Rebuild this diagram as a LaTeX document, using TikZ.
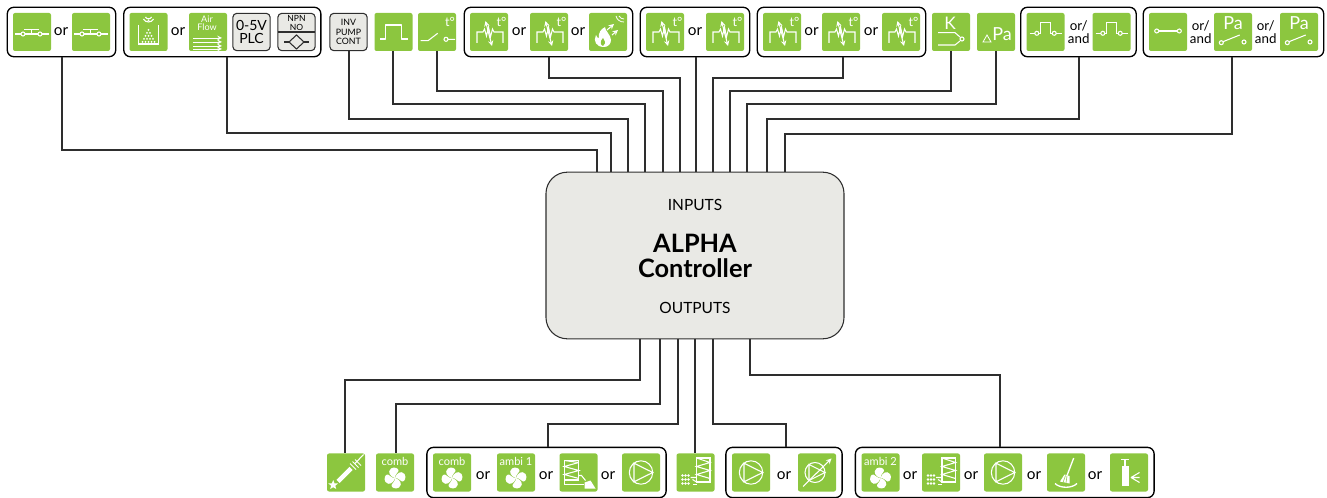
\documentclass[tikz,border=0pt]{standalone}
\usepackage{fontspec}
\setmainfont{Lato}
\usetikzlibrary{fit}
\definecolor{leaf}{HTML}{8CC63F}
\definecolor{panel}{HTML}{E9E9E5}
\definecolor{wirecol}{HTML}{2E2E2E}
\newcommand{\fsz}[1]{\fontsize{#1}{#1}\selectfont}
\tikzset{
	tile/.style={fill=leaf,rounded corners=1.5pt,minimum width=28.5pt,minimum height=28.5pt,inner sep=0pt,outer sep=0pt},
	greytile/.style={fill=panel,draw=wirecol,line width=.8pt,rounded corners=3pt,minimum width=28pt,minimum height=28pt,inner sep=0pt,outer sep=0pt,align=center},
	group/.style={draw=black,line width=1pt,rounded corners=5pt,inner sep=4.3pt,outer sep=0pt},
	groupb/.style={group,inner sep=4.6pt},
	wire/.style={draw=wirecol,line width=1pt},
	ortext/.style={font=\fsz{11.5},inner sep=0pt},
	oratext/.style={font=\fsz{10},inner sep=0pt,align=center},
	icon/.style={draw=white,line width=.8pt},
	icontext/.style={text=white,inner sep=0pt},
	ncswitch/.pic={
		\draw[icon] (-17,2) -- (-11,2) (-7,2) -- (6,2) (10,2) -- (17,2);
		\draw[icon] (-9,2) circle (2) (8,2) circle (2);
		\draw[icon] (-8,-2.5) -- (7,-2.5) (-0.5,-2.5) -- (-0.5,2);
	},
	levelbin/.pic={
		\draw[icon] (-10,-7) -- (-10,12) -- (10,12) -- (10,-7);
		\foreach \y/\n/\s in {10/5/-6,7/4/-4.5,4/3/-3,1/2/-1.5,-2/1/0}
			\foreach \i in {1,...,\n}
				\fill[white] ({\s+(\i-1)*3},\y) circle (1);
		\draw[icon] (-5,-13) .. controls (-3,-9) and (3,-9) .. (5,-13);
		\draw[icon] (-3,-15) .. controls (-1.5,-12.5) and (1.5,-12.5) .. (3,-15);
		\fill[white] (0,-11.5) circle (1);
	},
	airflow/.pic={
		\node[icontext,font=\fsz{6.8},align=center] at (-1,-9) {Air\\[-.5pt]Flow};
		\draw[icon,line width=.6pt,->] (-15,6) -- (14,6);
		\draw[icon,line width=.6pt,->] (-15,10) -- (14,10);
		\draw[icon,line width=.6pt,->] (-15,14) -- (14,14);
		\draw[icon,line width=.6pt,->] (-15,17) -- (14,17);
	},
	pulsewave/.pic={
		\draw[icon,line width=1.4pt,line join=round] (-13.5,7) -- (-8,7) -- (-8,-7) -- (8,-7) -- (8,7) -- (14,7);
	},
	tswitch/.pic={
		\node[icontext,font=\fsz{9.5}] at (13,-10) {t°};
		\draw[icon] (-16.5,8.7) -- (-9,8.7) -- (0.7,1.3);
		\draw[icon] (9,7.3) circle (2) (11,7.3) -- (18,7.3);
	},
	ptc/.pic={
		\node[icontext,font=\fsz{9.5}] at (12.5,-10) {t°};
		\draw[icon] (-12,11) -- (-12,0) -- (-6,0) -- (-4.5,-3) -- (-2.5,4) -- (-0.5,-5) -- (1.5,5) -- (3.5,-3) -- (5,0) -- (14,0) -- (14,11);
		\draw[icon,<->] (-3.5,-11) -- (3,14);
	},
	flame/.pic={
		\fill[white] (-4,15) .. controls (-12,15) and (-15,9) .. (-12,3) .. controls (-11,6) and (-10,6) .. (-9,6) .. controls (-10,1) and (-7,-3) .. (-3,-5) .. controls (-3,-1) and (3,3) .. (3,8) .. controls (3,12) and (0,15) .. (-4,15) -- cycle;
		\fill[leaf] (-5,14) .. controls (-8,13) and (-8,9) .. (-5,6) .. controls (-4,9) and (-1,10) .. (-5,14) -- cycle;
		\draw[icon,->] (-1,-2) -- (6,-8);
		\draw[icon,->] (4,3) -- (10,-2);
		\draw[icon,line width=.6pt] (8,-16) .. controls (9,-12) and (12,-10) .. (16,-10);
		\draw[icon,line width=.6pt] (11,-16) .. controls (12,-14) and (14,-13) .. (16,-13);
	},
	tcouple/.pic={
		\node[icontext,font=\fsz{13}] at (-1,-9) {K};
		\draw[icon] (-13,0.7) -- (4,0.7) -- (9,5) (9,9) -- (4,13) -- (-13,13);
		\draw[icon] (11,7) circle (2);
	},
	deltapa/.pic={
		\node[icontext,font=\fsz{13.5}] at (6,2) {Pa};
		\draw[icon,line width=.6pt] (-13,10) -- (-9,3) -- (-5,10) -- cycle;
	},
	pulsesw/.pic={
		\draw[icon] (-16,1.3) -- (-10.7,1.3) (10.7,1.3) -- (16,1.3);
		\draw[icon] (-8.7,1.3) circle (2) (8.7,1.3) circle (2);
		\draw[icon] (-6.7,1.3) -- (-4.7,1.3) -- (-4.7,-9.3) -- (4.7,-9.3) -- (4.7,1.3) -- (6.7,1.3);
	},
	closedsw/.pic={
		\draw[icon] (-11.3,-1) circle (2) (11.3,-1) circle (2);
		\draw[icon,line width=1pt] (-9.3,-1) -- (9.3,-1);
	},
	paswitch/.pic={
		\node[icontext,font=\fsz{13.5}] at (0,-9) {Pa};
		\draw[icon] (-11.7,10.7) circle (2) (11,10) circle (2);
		\draw[icon] (-10,9.7) -- (6.7,3);
	},
	igniter/.pic={
		\draw[white,line width=3.4pt] (-8,9) -- (5,-4);
		\draw[icon,line width=.7pt] (4,-9) -- (10,-3) (6.5,-11) -- (12.5,-5) (9,-13) -- (15,-7);
		\draw[icon] (9,-9) -- (17.5,-18);
		\fill[white] (-12.8,7.5) -- (-11.5,10.8) -- (-8,11) -- (-10.7,13.2) -- (-9.8,16.5) -- (-12.8,14.7) -- (-15.8,16.5) -- (-14.9,13.2) -- (-17.6,11) -- (-14.1,10.8) -- cycle;
	},
	fanblades/.pic={
		\foreach \a in {0,90,180,270}
			\fill[white,rotate=\a] (0,0) .. controls (-5,-1.5) and (-8,-6) .. (-4,-9.5) .. controls (-1,-11.5) and (4,-10) .. (3.5,-7) .. controls (3,-5) and (0,-4) .. (0,0) -- cycle;
	},
	combfan/.pic={
		\node[icontext,font=\fsz{8.3}] at (0,-11) {comb};
		\pic at (0,5.5) {fanblades};
	},
	ambione/.pic={
		\node[icontext,font=\fsz{8.3}] at (0,-11) {ambi 1};
		\pic at (0,5.5) {fanblades};
	},
	ambitwo/.pic={
		\node[icontext,font=\fsz{8.3}] at (0,-11) {ambi 2};
		\pic at (0,5.5) {fanblades};
	},
	exchanger/.pic={
		\draw[icon] (-14.3,-12) rectangle (0.3,7.5);
		\draw[icon] (0.3,-10) -- (-14.3,-6) -- (0.3,-2) -- (-14.3,2) -- (0.3,6);
		\draw[icon] (-14.3,-12) -- (0.3,-10);
		\draw[icon] (0.3,3) -- (3,3) -- (7,8);
		\draw[icon] (-14.3,7.5) -- (-14.3,12) -- (5,12);
		\fill[white] (6,10) -- (12,8) -- (17,16) -- (6,16) -- cycle;
	},
	pump/.pic={
		\draw[icon] (0,0) circle (11.7);
		\draw[icon] (-7,-9.3) -- (-7,9.3) -- (11.7,0) -- cycle;
	},
	burner/.pic={
		\draw[icon] (1,-14.5) rectangle (14.5,9.5);
		\draw[icon] (1,-14.5) -- (14.5,-10) -- (1,-6) -- (14.5,-2) -- (1,2) -- (14.5,6);
		\draw[icon] (1,5) -- (-5,5) (1,9.5) -- (-3,7);
		\draw[icon] (1,12) -- (-3,12);
		\foreach \x in {-13,-10,-7}
			\foreach \y in {3,7,11}
				\fill[white] (\x,\y) circle (1.3);
	},
	valve/.pic={
		\draw[icon] (-2,0) circle (10);
		\draw[icon] (-8,-8) -- (-8,8) -- (8,0) -- cycle;
		\draw[icon,->] (-14,14) -- (14.5,-14);
	},
	broom/.pic={
		\draw[icon,line width=1pt] (7.7,-14.5) -- (1,3);
		\fill[white] (-1.5,2) -- (3.5,3.5) -- (3.5,11) -- (-6,9) -- cycle;
		\draw[leaf,line width=.4pt] (-3,10) -- (-0.5,3) (0,10.5) -- (1,3.5);
		\draw[icon,line width=1pt] (-11,11) .. controls (-6,16) and (6,16) .. (11,11);
	},
	injector/.pic={
		\draw[icon,line width=1.2pt] (-8,-13) -- (0,-13) (-3.8,-13) -- (-3.8,-7);
		\fill[white] (-7.2,-7) rectangle (-0.5,13);
		\draw[icon] (2,5) -- (10.5,0) (2,5) -- (10.5,5) (2,5) -- (10.5,10);
	},
}
\begin{document}
\begin{tikzpicture}[x=.75pt,y=-.75pt,>=stealth]
	\useasboundingbox (0,0) rectangle (1327,498);

	% top row
	\node[tile] (ncone) at (32,32) {};
	\node[ortext] (orone) at (61,32) {or};
	\node[tile] (nctwo) at (91,32) {};
	\node[tile] (level) at (148.5,32) {};
	\node[ortext] (ortwo) at (178,32) {or};
	\node[tile] (air) at (208,32) {};
	\node[greytile,font=\fsz{10.5}] (plc) at (251.5,32) {0-5V\\[-1pt]PLC};
	\node[greytile] (npn) at (296.5,32) {};
	\node[greytile,font=\fsz{6.6}] (inv) at (348.5,32) {INV\\[.5pt]PUMP\\[.5pt]CONT};
	\node[tile] (pulse) at (393.5,32) {};
	\node[tile] (tsw) at (437,32) {};
	\node[tile] (ptca) at (489,32) {};
	\node[ortext] (orthree) at (519,32) {or};
	\node[tile] (ptcb) at (549,32) {};
	\node[ortext] (orfour) at (578,32) {or};
	\node[tile] (fire) at (608,32) {};
	\node[tile] (ptcc) at (665,32) {};
	\node[ortext] (orfive) at (695,32) {or};
	\node[tile] (ptcd) at (725,32) {};
	\node[tile] (ptce) at (782,32) {};
	\node[ortext] (orsix) at (811.5,32) {or};
	\node[tile] (ptcf) at (841,32) {};
	\node[ortext] (orseven) at (871,32) {or};
	\node[tile] (ptcg) at (901,32) {};
	\node[tile] (kay) at (951,32) {};
	\node[tile] (dpa) at (996,32) {};
	\node[tile] (psa) at (1045.5,32) {};
	\node[oratext] (anda) at (1078.7,32) {or/\\[.2pt]and};
	\node[tile] (psb) at (1111.5,32) {};
	\node[tile] (closed) at (1168,32) {};
	\node[oratext] (andb) at (1200.7,32) {or/\\[.2pt]and};
	\node[tile] (paa) at (1233,32) {};
	\node[oratext] (andc) at (1265.7,32) {or/\\[.2pt]and};
	\node[tile] (pab) at (1299,32) {};

	% top groups
	\node[group,fit=(ncone)(nctwo)] (gone) {};
	\node[group,fit=(level)(npn)] (gtwo) {};
	\node[group,fit=(ptca)(fire)] (gthree) {};
	\node[group,fit=(ptcc)(ptcd)] (gfour) {};
	\node[group,fit=(ptce)(ptcg)] (gfive) {};
	\node[group,fit=(psa)(psb)] (gsix) {};
	\node[group,fit=(closed)(pab)] (gseven) {};

	% icons
	\pic at (ncone) {ncswitch};
	\pic at (nctwo) {ncswitch};
	\pic at (level) {levelbin};
	\pic at (air) {airflow};
	\draw[wirecol,line width=.8pt] (npn.west) -- (npn.east);
	\node[inner sep=0pt,font=\fsz{6.4},align=center] (npntext) at (296.5,23) {NPN\\[.2pt]NO};
	\draw[wirecol,line width=.8pt] (284,42) -- (289,42) (304,42) -- (309,42);
	\draw[wirecol,line width=.8pt] (296.5,35) -- (304,42) -- (296.5,49) -- (289,42) -- cycle;
	\pic at (pulse) {pulsewave};
	\pic at (tsw) {tswitch};
	\pic at (ptca) {ptc};
	\pic at (ptcb) {ptc};
	\pic at (fire) {flame};
	\pic at (ptcc) {ptc};
	\pic at (ptcd) {ptc};
	\pic at (ptce) {ptc};
	\pic at (ptcf) {ptc};
	\pic at (ptcg) {ptc};
	\pic at (kay) {tcouple};
	\pic at (dpa) {deltapa};
	\pic at (psa) {pulsesw};
	\pic at (psb) {pulsesw};
	\pic at (closed) {closedsw};
	\pic at (paa) {paswitch};
	\pic at (pab) {paswitch};

	% controller
	\node[fill=panel,draw=wirecol,line width=.8pt,rounded corners=16pt,minimum width=223.5pt,minimum height=125pt,outer sep=0pt] (ctrl) at (695,255.5) {};
	\node[font=\fsz{11.6},inner sep=0pt] (intext) at (695,205) {INPUTS};
	\node[font=\fsz{19}\bfseries,align=center,inner sep=0pt] (name) at (695,256) {ALPHA\\Controller};
	\node[font=\fsz{11.6},inner sep=0pt] (outtext) at (695,308) {OUTPUTS};

	% bottom row
	\node[tile] (ign) at (346,472.5) {};
	\node[tile] (comb) at (395,472.5) {};
	\node[tile] (comba) at (452,472.5) {};
	\node[ortext] (orbone) at (483,476) {or};
	\node[tile] (ambi) at (516,472.5) {};
	\node[ortext] (orbtwo) at (546,476) {or};
	\node[tile] (exch) at (578.5,472.5) {};
	\node[ortext] (orbthree) at (608,476) {or};
	\node[tile] (pumpa) at (641,472.5) {};
	\node[tile] (burn) at (695.5,472.5) {};
	\node[tile] (pumpb) at (751,472.5) {};
	\node[ortext] (orbfour) at (784,476) {or};
	\node[tile] (vlv) at (817,472.5) {};
	\node[tile] (ambib) at (880.5,472.5) {};
	\node[ortext] (orbfive) at (910,476) {or};
	\node[tile] (burnb) at (941,472.5) {};
	\node[ortext] (orbsix) at (971,476) {or};
	\node[tile] (pumpc) at (1003,472.5) {};
	\node[ortext] (orbseven) at (1034,476) {or};
	\node[tile] (brm) at (1066,472.5) {};
	\node[ortext] (orbeight) at (1095,476) {or};
	\node[tile] (inj) at (1129,472.5) {};

	% bottom groups
	\node[groupb,fit=(comba)(pumpa)] (geight) {};
	\node[groupb,fit=(pumpb)(vlv)] (gnine) {};
	\node[groupb,fit=(ambib)(inj)] (gten) {};

	% icons
	\pic at (ign) {igniter};
	\pic at (comb) {combfan};
	\pic at (comba) {combfan};
	\pic at (ambi) {ambione};
	\pic at (exch) {exchanger};
	\pic at (pumpa) {pump};
	\pic at (burn) {burner};
	\pic at (pumpb) {pump};
	\pic at (vlv) {valve};
	\pic at (ambib) {ambitwo};
	\pic at (burnb) {burner};
	\pic at (pumpc) {pump};
	\pic at (brm) {broom};
	\pic at (inj) {injector};

	% inputs
	\draw[wire] (62,150 |- gone.south) -- (62,150) -- (597,150) -- (597,150 |- ctrl.north);
	\draw[wire] (227,133 |- gtwo.south) -- (227,133) -- (611,133) -- (611,133 |- ctrl.north);
	\draw[wire] (349,119 |- inv.south) -- (349,119) -- (628,119) -- (628,119 |- ctrl.north);
	\draw[wire] (393,104 |- pulse.south) -- (393,104) -- (645,104) -- (645,104 |- ctrl.north);
	\draw[wire] (tsw.south) |- (663,91) -- (663,91 |- ctrl.north);
	\draw[wire] (549,78 |- gthree.south) -- (549,78) -- (680,78) -- (680,78 |- ctrl.north);
	\draw[wire] (696,78 |- gfour.south) -- (696,78 |- ctrl.north);
	\draw[wire] (843,78 |- gfive.south) -- (843,78) -- (713,78) -- (713,78 |- ctrl.north);
	\draw[wire] (kay.south) |- (730,91) -- (730,91 |- ctrl.north);
	\draw[wire] (dpa.south) |- (747,104) -- (747,104 |- ctrl.north);
	\draw[wire] (1079,119 |- gsix.south) -- (1079,119) -- (767,119) -- (767,119 |- ctrl.north);
	\draw[wire] (1232,134 |- gseven.south) -- (1232,134) -- (785,134) -- (785,134 |- ctrl.north);

	% outputs
	\draw[wire] (640,380 |- ctrl.south) -- (640,380) -- (345,380) -- (345,380 |- ign.north);
	\draw[wire] (660,404 |- ctrl.south) -- (660,404) -- (396,404) -- (396,404 |- comb.north);
	\draw[wire] (678,424 |- ctrl.south) -- (678,424) -- (548,424) -- (548,424 |- geight.north);
	\draw[wire] (695,400 |- ctrl.south) -- (695,400 |- burn.north);
	\draw[wire] (713,424 |- ctrl.south) -- (713,424) -- (786,424) -- (786,424 |- gnine.north);
	\draw[wire] (750,375 |- ctrl.south) -- (750,375) -- (1000,375) -- (1000,375 |- gten.north);
\end{tikzpicture}
\end{document}
